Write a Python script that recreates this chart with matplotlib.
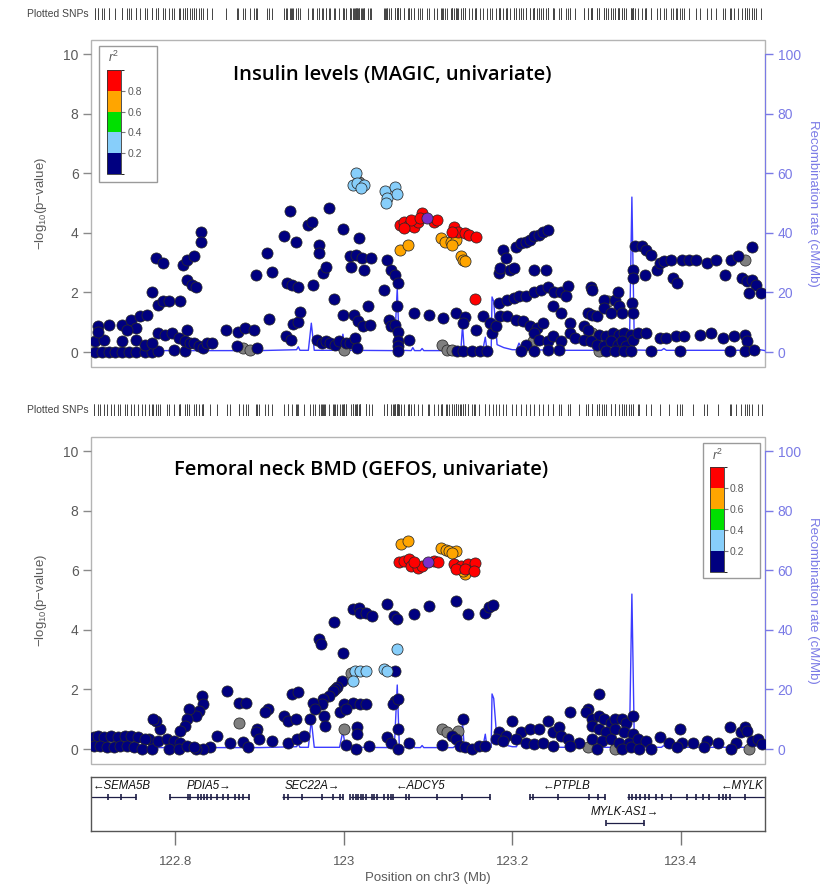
import numpy as np
import matplotlib
matplotlib.use("Agg")
import matplotlib.pyplot as plt
from matplotlib.colors import ListedColormap, BoundaryNorm
from matplotlib.cm import ScalarMappable
from matplotlib.patches import Rectangle

plt.rcParams['font.family'] = ['Liberation Sans', 'DejaVu Sans']
plt.rcParams['mathtext.fontset'] = 'custom'
plt.rcParams['mathtext.rm'] = 'Liberation Sans'
plt.rcParams['mathtext.it'] = 'Liberation Sans:italic'

# ---------------------------------------------------------------- region
XMIN, XMAX = 122.7, 123.5
X_TICKS = [122.8, 123.0, 123.2, 123.4]
X_TICK_LABELS = ['122.8', '123', '123.2', '123.4']

# LD (r^2) bins and colours
R2_BOUNDS = [0.0, 0.2, 0.4, 0.6, 0.8, 1.0]
R2_COLORS = ['#000080', '#87CEFA', '#00E000', '#FFA500', '#FF0000']
LEAD_COLOR = '#7B2FC9'
NA_COLOR = '#7F7F7F'

# ---------------------------------------------------------------- insulin (MAGIC)
# (position Mb, -log10 p) per LD class
INS_R2_LOW = [
    (122.705, 0.00), (122.713, 0.00), (122.721, 0.00), (122.729, 0.00), (122.737, 0.00),
    (122.745, 0.00), (122.753, 0.00), (122.764, 0.00), (122.772, 0.00), (122.780, 0.02),
    (122.798, 0.08), (122.812, 0.02), (122.705, 0.36), (122.716, 0.41), (122.737, 0.36),
    (122.753, 0.41), (122.764, 0.25), (122.772, 0.30), (122.708, 0.89), (122.721, 0.92),
    (122.737, 0.92), (122.748, 1.08), (122.753, 0.80), (122.758, 1.20), (122.766, 1.25),
    (122.708, 0.69), (122.743, 0.75), (122.772, 2.03), (122.780, 1.59), (122.785, 1.70),
    (122.793, 1.70), (122.806, 1.70), (122.777, 3.15), (122.785, 2.98), (122.809, 2.93),
    (122.814, 3.09), (122.822, 3.21), (122.814, 2.42), (122.820, 2.26), (122.825, 2.20),
    (122.830, 4.04), (122.830, 3.71), (122.780, 0.64), (122.788, 0.58), (122.796, 0.64),
    (122.804, 0.47), (122.814, 0.75), (122.812, 0.36), (122.817, 0.30), (122.822, 0.30),
    (122.828, 0.19), (122.833, 0.13), (122.838, 0.30), (122.844, 0.30), (122.860, 0.75),
    (122.875, 0.69), (122.883, 0.80), (122.894, 0.75), (122.873, 0.19), (122.897, 0.13),
    (122.896, 2.59), (122.909, 3.32), (122.915, 2.70), (122.911, 1.11), (122.929, 3.88),
    (122.936, 4.72), (122.943, 3.71), (122.933, 2.31), (122.939, 2.26), (122.946, 2.20),
    (122.940, 0.95), (122.946, 1.00), (122.948, 1.36), (122.931, 0.53), (122.937, 0.41),
    (122.958, 4.27), (122.962, 4.38), (122.963, 2.26), (122.971, 3.60), (122.971, 3.32),
    (122.975, 2.65), (122.979, 2.87), (122.982, 4.83), (122.989, 1.78), (122.968, 0.41),
    (122.974, 0.30), (122.979, 0.36), (122.984, 0.30), (122.990, 0.25), (122.994, 0.36),
    (122.999, 4.12), (123.008, 3.21), (123.009, 2.87), (123.015, 3.26), (123.018, 3.82),
    (123.022, 3.15), (123.024, 2.76), (123.032, 3.15), (122.999, 1.23), (123.012, 1.25),
    (123.017, 1.03), (123.023, 0.88), (123.031, 0.92), (123.029, 1.56), (123.003, 0.30),
    (123.008, 0.30), (123.013, 0.47), (123.016, 0.13), (123.051, 3.09), (123.056, 2.76),
    (123.061, 2.59), (123.064, 2.31), (123.048, 2.09), (123.054, 1.08), (123.056, 0.86),
    (123.061, 0.92), (123.064, 0.69), (123.064, 0.36), (123.064, 0.19), (123.064, 0.02),
    (123.063, 1.56), (123.077, 0.41), (123.083, 1.31), (123.101, 1.25), (123.118, 1.14),
    (123.133, 1.31), (123.144, 1.17), (123.157, 0.75), (123.165, 1.20), (123.173, 0.97),
    (123.176, 0.64), (123.181, 0.86), (123.135, 0.02), (123.141, 0.02), (123.152, 0.02),
    (123.162, 0.02), (123.170, 0.02), (123.141, 0.97), (123.184, 2.65), (123.186, 2.82),
    (123.189, 3.43), (123.193, 3.15), (123.197, 2.76), (123.202, 2.82), (123.226, 2.76),
    (123.240, 2.76), (123.205, 3.54), (123.210, 3.65), (123.216, 3.71), (123.221, 3.77),
    (123.226, 3.88), (123.232, 3.93), (123.237, 4.04), (123.243, 4.08), (123.184, 1.64),
    (123.194, 1.75), (123.202, 1.81), (123.208, 1.87), (123.216, 1.87), (123.226, 2.03),
    (123.234, 2.09), (123.242, 2.20), (123.250, 2.03), (123.258, 2.03), (123.266, 2.22),
    (123.264, 1.87), (123.186, 1.20), (123.194, 1.20), (123.205, 1.08), (123.213, 1.03),
    (123.221, 0.86), (123.229, 0.80), (123.237, 0.97), (123.248, 1.53), (123.258, 1.31),
    (123.269, 0.97), (123.226, 0.64), (123.232, 0.41), (123.242, 0.36), (123.248, 0.53),
    (123.258, 0.36), (123.269, 0.64), (123.274, 0.47), (123.216, 0.25), (123.210, 0.02),
    (123.226, 0.02), (123.242, 0.08), (123.256, 0.08), (123.293, 2.20), (123.295, 2.09),
    (123.290, 1.31), (123.295, 1.25), (123.301, 1.20), (123.309, 1.75), (123.322, 1.75),
    (123.325, 2.03), (123.327, 1.53), (123.309, 1.47), (123.317, 1.31), (123.330, 1.31),
    (123.285, 0.86), (123.290, 0.75), (123.303, 0.58), (123.311, 0.53), (123.319, 0.64),
    (123.327, 0.58), (123.333, 0.64), (123.341, 0.58), (123.285, 0.41), (123.293, 0.36),
    (123.301, 0.25), (123.309, 0.19), (123.317, 0.36), (123.325, 0.25), (123.330, 0.36),
    (123.335, 0.19), (123.343, 0.41), (123.311, 0.02), (123.322, 0.02), (123.333, 0.02),
    (123.341, 0.02), (123.342, 1.64), (123.343, 1.31), (123.343, 2.76), (123.343, 2.48),
    (123.346, 3.56), (123.354, 3.56), (123.359, 3.43), (123.365, 3.26), (123.357, 2.59),
    (123.372, 2.76), (123.375, 2.98), (123.380, 3.04), (123.388, 3.09), (123.391, 2.48),
    (123.396, 2.31), (123.402, 3.09), (123.410, 3.09), (123.418, 3.09), (123.431, 2.98),
    (123.442, 3.09), (123.452, 2.59), (123.460, 3.09), (123.468, 3.21), (123.484, 3.54),
    (123.473, 2.48), (123.479, 2.37), (123.484, 2.42), (123.489, 2.26), (123.481, 1.98),
    (123.495, 1.98), (123.349, 0.64), (123.359, 0.64), (123.375, 0.47), (123.383, 0.47),
    (123.394, 0.53), (123.404, 0.53), (123.423, 0.58), (123.436, 0.64), (123.450, 0.47),
    (123.463, 0.53), (123.476, 0.58), (123.479, 0.36), (123.365, 0.02), (123.399, 0.02),
    (123.458, 0.02), (123.476, 0.02), (123.487, 0.08),
]
INS_R2_MID = [
    (123.014, 6.00), (123.011, 5.61), (123.016, 5.66), (123.024, 5.61), (123.020, 5.50),
    (123.049, 5.39), (123.051, 5.16), (123.050, 4.99), (123.061, 5.55), (123.063, 5.31),
]
INS_R2_HIGH = [
    (123.067, 3.43), (123.076, 3.60), (123.115, 3.82), (123.120, 3.71), (123.127, 3.68),
    (123.133, 3.77), (123.128, 3.60), (123.139, 3.21), (123.141, 3.09), (123.144, 3.04),
]
INS_R2_TOP = [
    (123.067, 4.27), (123.072, 4.38), (123.077, 4.27), (123.083, 4.21), (123.088, 4.38),
    (123.093, 4.66), (123.107, 4.38), (123.111, 4.44), (123.080, 4.44), (123.091, 4.49),
    (123.071, 4.16), (123.131, 4.21), (123.136, 4.04), (123.144, 3.99), (123.149, 3.93),
    (123.157, 3.85), (123.128, 4.04), (123.156, 1.78),
]
INS_R2_NA = [
    (122.881, 0.13), (122.889, 0.08), (123.000, 0.06), (123.018, 5.69), (123.117, 0.25),
    (123.123, 0.08), (123.128, 0.08), (123.225, 0.36), (123.303, 0.02), (123.314, 1.70),
    (123.295, 0.64), (123.476, 3.09),
]
INS_LEAD = (123.099, 4.49)

# ---------------------------------------------------------------- femoral neck BMD (GEFOS)
BMD_R2_LOW = [
    (123.011, 4.69), (123.018, 4.75), (123.019, 4.58), (123.027, 4.58), (123.034, 4.47),
    (123.051, 4.86), (123.060, 4.47), (123.063, 4.36), (123.083, 4.53), (123.101, 4.80),
    (123.133, 4.97), (123.148, 4.53), (123.168, 4.58), (123.172, 4.78), (123.177, 4.83),
    (122.989, 4.25), (122.971, 3.69), (122.973, 3.52), (122.999, 3.24), (123.061, 2.63),
    (122.998, 2.29), (122.992, 2.07), (122.990, 2.01), (122.987, 1.96), (122.982, 1.79),
    (122.975, 1.68), (122.974, 1.51), (122.963, 1.56), (122.966, 1.34), (122.976, 1.12),
    (122.978, 0.78), (123.000, 1.51), (123.011, 1.56), (123.019, 1.51), (123.027, 1.51),
    (123.016, 0.73), (123.016, 0.50), (122.995, 1.23), (123.003, 1.34), (122.960, 1.01),
    (123.061, 1.62), (123.059, 1.51), (123.064, 1.68), (122.929, 1.12), (122.934, 0.95),
    (122.943, 1.01), (122.939, 1.84), (122.946, 1.90), (122.910, 1.34), (122.897, 0.67),
    (122.907, 1.23), (122.915, 0.28), (122.934, 0.22), (122.945, 0.34), (122.953, 0.45),
    (122.862, 1.96), (122.876, 1.56), (122.884, 1.56), (122.896, 0.56), (122.881, 0.25),
    (122.886, 0.06), (122.899, 0.34), (122.832, 1.79), (122.833, 1.51), (122.828, 1.28),
    (122.825, 1.12), (122.816, 1.34), (122.814, 1.01), (122.811, 0.78), (122.806, 0.61),
    (122.782, 0.67), (122.777, 0.95), (122.773, 1.01), (122.769, 0.34), (122.849, 0.45),
    (122.865, 0.22), (122.841, 0.06), (122.833, 0.00), (122.825, 0.00), (123.128, 0.45),
    (123.133, 0.34), (123.141, 1.01), (123.138, 0.11), (123.144, 0.06), (123.152, 0.00),
    (123.160, 0.11), (123.168, 0.11), (123.117, 0.13), (123.064, 0.67), (123.051, 0.39),
    (123.056, 0.22), (123.064, 0.00), (123.077, 0.22), (123.014, 0.00), (123.030, 0.11),
    (123.003, 0.13), (123.184, 0.56), (123.192, 0.45), (123.200, 0.95), (123.210, 0.56),
    (123.221, 0.67), (123.232, 0.67), (123.242, 0.95), (123.248, 0.56), (123.256, 0.73),
    (123.269, 1.23), (123.258, 0.45), (123.266, 0.34), (123.279, 0.22), (123.181, 0.34),
    (123.189, 0.28), (123.205, 0.34), (123.216, 0.22), (123.226, 0.17), (123.237, 0.22),
    (123.248, 0.11), (123.269, 0.11), (123.290, 1.34), (123.287, 1.23), (123.295, 1.01),
    (123.303, 1.84), (123.303, 1.12), (123.309, 1.01), (123.317, 0.89), (123.322, 1.01),
    (123.330, 1.01), (123.335, 0.89), (123.343, 1.12), (123.295, 0.78), (123.303, 0.67),
    (123.311, 0.56), (123.322, 0.67), (123.333, 0.56), (123.343, 0.50), (123.295, 0.34),
    (123.306, 0.28), (123.317, 0.34), (123.327, 0.22), (123.338, 0.22), (123.301, 0.00),
    (123.330, 0.00), (123.341, 0.06), (123.349, 0.34), (123.359, 0.28), (123.375, 0.39),
    (123.386, 0.22), (123.399, 0.67), (123.402, 0.22), (123.415, 0.22), (123.431, 0.28),
    (123.444, 0.22), (123.458, 0.73), (123.466, 0.22), (123.471, 0.56), (123.476, 0.73),
    (123.479, 0.61), (123.484, 0.28), (123.492, 0.34), (123.351, 0.00), (123.365, 0.00),
    (123.396, 0.06), (123.428, 0.06), (123.460, 0.00), (123.497, 0.17), (122.703, 0.39),
    (122.708, 0.45), (122.716, 0.39), (122.724, 0.45), (122.732, 0.39), (122.740, 0.45),
    (122.748, 0.45), (122.756, 0.39), (122.764, 0.34), (122.703, 0.11), (122.711, 0.11),
    (122.719, 0.06), (122.727, 0.06), (122.735, 0.11), (122.743, 0.11), (122.751, 0.06),
    (122.761, 0.00), (122.772, 0.00), (122.780, 0.28), (122.790, 0.34), (122.798, 0.28),
    (122.806, 0.22), (122.793, 0.00), (122.804, 0.00), (122.814, 0.11), (122.822, 0.06),
]
BMD_R2_MID = [
    (123.063, 3.35), (123.013, 2.63), (123.019, 2.63), (123.027, 2.63), (123.048, 2.68),
    (123.051, 2.63), (123.011, 2.29),
]
BMD_R2_HIGH = [
    (123.068, 6.87), (123.076, 6.98), (123.115, 6.73), (123.121, 6.68), (123.125, 6.65),
    (123.133, 6.65), (123.128, 6.59), (123.144, 5.87), (123.141, 5.98),
]
BMD_R2_TOP = [
    (123.066, 6.26), (123.071, 6.31), (123.077, 6.37), (123.080, 6.15), (123.088, 6.06),
    (123.093, 6.15), (123.107, 6.31), (123.112, 6.26), (123.131, 6.20), (123.139, 6.15),
    (123.147, 6.20), (123.156, 6.23), (123.133, 6.03), (123.144, 6.03), (123.155, 5.98),
    (123.083, 6.26),
]
BMD_R2_NA = [
    (123.009, 2.55), (123.000, 0.67), (122.876, 0.89), (123.117, 0.67), (123.123, 0.56),
    (123.136, 0.61), (123.290, 0.06), (123.322, 0.00), (123.481, 0.00),
]
BMD_LEAD = (123.100, 6.29)

# representative r^2 for each LD class
CLASS_R2 = {'low': 0.1, 'mid': 0.3, 'high': 0.7, 'top': 0.9}

# ---------------------------------------------------------------- recombination rate (cM/Mb)
RECOMB = [
    (122.700, 0.5), (122.715, 0.4), (122.718, 1.5), (122.721, 0.5), (122.900, 0.5),
    (122.944, 0.8), (122.946, 1.8), (122.948, 0.6), (122.958, 0.6), (122.9615, 9.7),
    (122.965, 0.6), (122.995, 0.6), (122.999, 6.0), (123.002, 0.6), (123.060, 0.5),
    (123.0635, 21.5), (123.066, 0.6), (123.080, 0.5), (123.082, 1.5), (123.084, 0.5),
    (123.091, 0.5), (123.093, 1.2), (123.095, 0.5), (123.130, 0.5), (123.133, 1.2),
    (123.136, 0.5), (123.139, 0.5), (123.141, 9.0), (123.143, 0.6), (123.165, 0.6),
    (123.168, 5.0), (123.170, 0.6), (123.175, 0.6), (123.176, 18.5), (123.178, 17.0),
    (123.182, 2.5), (123.190, 1.5), (123.200, 0.8), (123.205, 0.8), (123.208, 3.0),
    (123.212, 0.8), (123.260, 0.6), (123.339, 0.6), (123.342, 52.0), (123.345, 0.7),
    (123.363, 0.6), (123.366, 1.2), (123.369, 0.6), (123.377, 0.6), (123.380, 1.2),
    (123.383, 0.6), (123.480, 0.6), (123.484, 2.0), (123.487, 1.2), (123.490, 1.0),
    (123.500, 0.5),
]

# ---------------------------------------------------------------- genes
GENE_NAMES = ['SEMA5B', 'PDIA5', 'SEC22A', 'ADCY5', 'PTPLB', 'MYLK', 'MYLK-AS1']
GENE_START = [122.620, 122.793, 122.927, 123.007, 123.220, 123.336, 123.311]
GENE_END = [122.753, 122.887, 122.999, 123.174, 123.310, 123.610, 123.356]
GENE_STRAND = ['-', '+', '+', '-', '-', '-', '+']
GENE_ROW = [0, 0, 0, 0, 0, 0, 1]
GENE_EXONS = [
    [122.700, 122.720, 122.736, 122.753],
    [122.794, 122.815, 122.818, 122.827, 122.830, 122.834, 122.838, 122.843, 122.850,
     122.857, 122.863, 122.871, 122.876, 122.881, 122.887],
    [122.929, 122.934, 122.950, 122.974, 122.987, 122.995, 122.999],
    [123.008, 123.011, 123.014, 123.017, 123.020, 123.023, 123.026, 123.033, 123.036,
     123.040, 123.048, 123.052, 123.056, 123.058, 123.074, 123.078, 123.111, 123.140,
     123.174],
    [123.221, 123.225, 123.254, 123.291, 123.302, 123.310],
    [123.338, 123.342, 123.347, 123.352, 123.357, 123.362, 123.371, 123.378, 123.389,
     123.408, 123.418, 123.426, 123.434, 123.445, 123.450, 123.454, 123.458, 123.476],
    [123.311, 123.356],
]

# ---------------------------------------------------------------- styling
GREY_TXT = '#5a5a5a'
FRAME = '#b4b4b4'
RECOMB_LINE = '#3c3cff'
RECOMB_AXIS = '#7a7ae6'
W, H = 825, 886

cmap = ListedColormap(R2_COLORS)
norm = BoundaryNorm(R2_BOUNDS, cmap.N)

fig = plt.figure(figsize=(W / 100, H / 100), dpi=100)


def px_axes(x0, y0, x1, y1):
    return fig.add_axes([x0 / W, 1 - y1 / H, (x1 - x0) / W, (y1 - y0) / H])


def draw_rug(ax_r, positions, label_y):
    ax_r.vlines(positions, 0, 1, color='#444444', lw=0.7)
    ax_r.set_xlim(XMIN, XMAX)
    ax_r.set_ylim(0, 1)
    ax_r.axis('off')
    fig.text(89 / W, 1 - label_y / H, 'Plotted SNPs', ha='right', va='center',
             fontsize=7.5, color='#444444')


def draw_panel(ax, groups, lead, title, title_xy, legend_box, cbar_box, r2_xy):
    ax2 = ax.twinx()
    ax.set_zorder(ax2.get_zorder() + 1)
    ax.patch.set_visible(False)

    # recombination rate behind the points
    rx, ry = zip(*RECOMB)
    ax2.plot(rx, ry, color=RECOMB_LINE, lw=1.0, zorder=2)
    ax2.set_ylim(-5, 104.7)
    ax2.add_patch(Rectangle((0, 0), 1, 1, transform=ax2.transAxes, fill=False,
                            ec=FRAME, lw=1.0, zorder=1, clip_on=False))
    for s in ['left', 'top', 'bottom']:
        ax2.spines[s].set_visible(False)
    ax2.spines['right'].set_color(RECOMB_AXIS)
    ax2.spines['right'].set_bounds(0, 100)
    ax2.spines['right'].set_zorder(3)
    ax2.set_yticks(range(0, 101, 20))
    ax2.tick_params(axis='y', colors=RECOMB_AXIS, labelcolor=RECOMB_AXIS, labelsize=10,
                    length=6, width=1, pad=3)
    ax2.set_ylabel('Recombination rate (cM/Mb)', color=RECOMB_AXIS, fontsize=9.5,
                   rotation=270, labelpad=13)

    # association points
    for key, pts in groups:
        xs, ys = zip(*pts)
        if key == 'na':
            col = NA_COLOR
        else:
            col = cmap(norm(CLASS_R2[key]))
        ax.scatter(xs, ys, s=64, c=[col], edgecolors='#2a2a2a', linewidths=0.55, zorder=3)
    ax.scatter([lead[0]], [lead[1]], s=64, c=LEAD_COLOR, edgecolors='#2a2a2a',
               linewidths=0.55, zorder=4)

    ax.set_xlim(XMIN, XMAX)
    ax.set_ylim(-0.5, 10.47)
    for s in ax.spines.values():
        s.set_visible(False)
    ax.set_xticks([])
    ax.set_yticks(range(0, 11, 2))
    ax.tick_params(axis='y', colors='#8a8a8a', labelcolor=GREY_TXT, labelsize=10,
                   length=6, width=1, pad=3)
    ax.set_ylabel(r'$-$log$_{10}$(p$-$value)', color=GREY_TXT, fontsize=9.5, labelpad=10)

    ax.text(title_xy[0], title_xy[1], title, transform=ax.transAxes, ha='center',
            va='center', fontsize=14.5, fontweight='semibold', family='Open Sans',
            color='black')

    # r^2 legend
    ax.add_patch(Rectangle(legend_box[:2], legend_box[2], legend_box[3],
                           transform=ax.transAxes, fc='white', ec='#9a9a9a', lw=1.0,
                           zorder=5, clip_on=False))
    cax = ax.inset_axes(cbar_box)
    cax.set_zorder(6)
    cb = fig.colorbar(ScalarMappable(norm=norm, cmap=cmap), cax=cax,
                      ticks=[0.2, 0.4, 0.6, 0.8])
    cb.outline.set_edgecolor('#333333')
    cb.outline.set_linewidth(0.6)
    cb.ax.tick_params(length=3, width=0.8, colors='#777777', labelcolor=GREY_TXT,
                      labelsize=7.5, pad=1.5)
    ax.text(r2_xy[0], r2_xy[1], r'$r^2$', transform=ax.transAxes, ha='center',
            va='center', fontsize=9, color=GREY_TXT, zorder=7)
    return ax2


def all_positions(groups, lead):
    pos = [p for _, pts in groups for p, _ in pts]
    pos.append(lead[0])
    return sorted(pos)


ins_groups = [('na', INS_R2_NA), ('low', INS_R2_LOW), ('mid', INS_R2_MID),
              ('high', INS_R2_HIGH), ('top', INS_R2_TOP)]
bmd_groups = [('na', BMD_R2_NA), ('low', BMD_R2_LOW), ('mid', BMD_R2_MID),
              ('high', BMD_R2_HIGH), ('top', BMD_R2_TOP)]

# top panel
ax_rug1 = px_axes(91, 8, 765, 20)
draw_rug(ax_rug1, all_positions(ins_groups, INS_LEAD), 14)
ax1 = px_axes(91, 40, 765, 367)
draw_panel(ax1, ins_groups, INS_LEAD, 'Insulin levels (MAGIC, univariate)',
           (0.447, 0.893), (0.0119, 0.566, 0.0861, 0.416),
           [0.0237, 0.590, 0.0208, 0.318], (0.0341, 0.948))

# bottom panel
ax_rug2 = px_axes(91, 404, 765, 416)
draw_rug(ax_rug2, all_positions(bmd_groups, BMD_LEAD), 410)
ax3 = px_axes(91, 437, 765, 764)
draw_panel(ax3, bmd_groups, BMD_LEAD, 'Femoral neck BMD (GEFOS, univariate)',
           (0.40, 0.899), (0.908, 0.569, 0.0846, 0.413),
           [0.918, 0.587, 0.0208, 0.321], (0.929, 0.945))

# gene track
axg = px_axes(91, 777, 765, 831)
axg.set_xlim(XMIN, XMAX)
axg.set_ylim(1.31, -0.77)
for s in axg.spines.values():
    s.set_color('#555555')
    s.set_linewidth(1.0)
axg.set_yticks([])
axg.set_xticks(X_TICKS)
axg.set_xticklabels(X_TICK_LABELS)
axg.tick_params(axis='x', colors='#777777', labelcolor=GREY_TXT, labelsize=9.5,
                length=10, width=1, pad=8)
axg.set_xlabel('Position on chr3 (Mb)', color=GREY_TXT, fontsize=9.5, labelpad=3)

gene_color = '#1e1e46'
renderer = fig.canvas.get_renderer()
for name, st, en, strand, row, exons in zip(GENE_NAMES, GENE_START, GENE_END,
                                             GENE_STRAND, GENE_ROW, GENE_EXONS):
    axg.hlines(row, max(st, XMIN), min(en, XMAX), color=gene_color, lw=0.9)
    axg.vlines(exons, row - 0.11, row + 0.11, color=gene_color, lw=1.2)
    label = ('\u2190' + name) if strand == '-' else (name + '\u2192')
    t = axg.text((st + en) / 2, row - 0.42, label, ha='center', va='center',
                 fontsize=8.3, style='italic', color='#111111')
    bb = t.get_window_extent(renderer).transformed(axg.transData.inverted())
    if bb.x0 < XMIN:
        t.set_x(XMIN + 0.002)
        t.set_ha('left')
    elif bb.x1 > XMAX:
        t.set_x(XMAX - 0.002)
        t.set_ha('right')

fig.savefig('out.png', dpi=100, facecolor='white')
